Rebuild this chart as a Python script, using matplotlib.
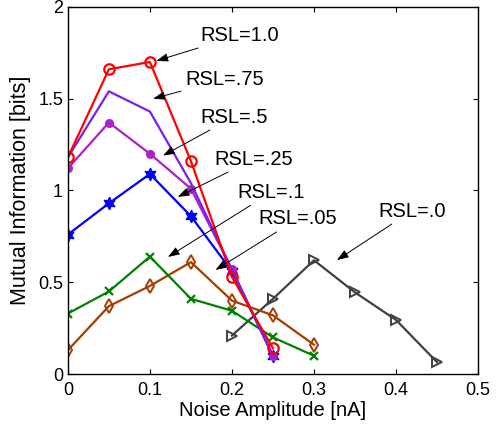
import matplotlib
matplotlib.use('Agg')
import matplotlib.pyplot as plt

plt.rcParams['font.family'] = ['Liberation Sans', 'DejaVu Sans']

# noise amplitude [nA]
noise_a = [0, 0.05, 0.1, 0.15, 0.2, 0.25]
noise_b = [0, 0.05, 0.1, 0.15, 0.2, 0.25, 0.3]
noise_c = [0.2, 0.25, 0.3, 0.35, 0.4, 0.45]

# mutual information [bits]
rsl_100 = [1.18, 1.66, 1.70, 1.16, 0.53, 0.14]
rsl_075 = [1.18, 1.54, 1.43, 1.04, 0.57, 0.10]
rsl_050 = [1.12, 1.37, 1.20, 1.01, 0.57, 0.10]
rsl_025 = [0.76, 0.93, 1.09, 0.86, 0.56, 0.10]
rsl_010 = [0.33, 0.45, 0.64, 0.41, 0.345, 0.20, 0.10]
rsl_005 = [0.13, 0.37, 0.48, 0.61, 0.40, 0.32, 0.16]
rsl_000 = [0.21, 0.41, 0.62, 0.445, 0.295, 0.065]

labels = ['RSL=1.0', 'RSL=.75', 'RSL=.5', 'RSL=.25', 'RSL=.1', 'RSL=.05', 'RSL=.0']
arrow_tips = [(0.108, 1.706), (0.104, 1.50), (0.116, 1.19), (0.134, 0.965),
              (0.122, 0.638), (0.180, 0.567), (0.328, 0.621)]
text_pos = [(0.161, 1.845), (0.143, 1.605), (0.161, 1.40), (0.179, 1.17),
            (0.207, 0.99), (0.232, 0.845), (0.378, 0.888)]

fig = plt.figure(figsize = (4.99, 4.30), dpi = 100)
ax = fig.add_axes([0.136, 0.130, 0.822, 0.854])

lw = 1.6
ax.plot(noise_c, rsl_000, color = '#404040', lw = lw, marker = '>', ms = 7,
        mfc = 'none', mew = 1.4)
ax.plot(noise_b, rsl_005, color = '#a83c00', lw = lw, marker = 'd', ms = 7,
        mfc = 'none', mew = 1.4)
ax.plot(noise_b, rsl_010, color = '#008000', lw = lw, marker = 'x', ms = 6,
        mew = 1.6)
ax.plot(noise_a, rsl_025, color = '#0000ff', lw = lw, marker = (6, 1, 0), ms = 9)
ax.plot(noise_a, rsl_050, color = '#b020c8', lw = lw, marker = 'o', ms = 5.5)
ax.plot(noise_a, rsl_075, color = '#7a1ff0', lw = lw)
ax.plot(noise_a, rsl_100, color = '#ff0000', lw = lw, marker = 'o', ms = 7.5,
        mfc = 'none', mew = 1.6)

for label, tip, pos in zip(labels, arrow_tips, text_pos):
    ax.annotate(label, xy = tip, xytext = pos, fontsize = 14.5,
                ha = 'left', va = 'center',
                arrowprops = dict(arrowstyle = '-|>,head_length=0.5,head_width=0.18',
                                  color = 'k', lw = 0.7,
                                  mutation_scale = 14, shrinkA = 1, shrinkB = 0))

ax.set_xlim(0, 0.5)
ax.set_ylim(0, 2)
ax.set_xticks([0, 0.1, 0.2, 0.3, 0.4, 0.5])
ax.set_xticklabels(['0', '0.1', '0.2', '0.3', '0.4', '0.5'])
ax.set_yticks([0, 0.5, 1, 1.5, 2])
ax.set_yticklabels(['0', '0.5', '1', '1.5', '2'])
ax.tick_params(direction = 'in', top = True, right = True, labelsize = 13,
               length = 3.6, width = 0.8)
ax.tick_params(axis = 'x', pad = 6)
ax.tick_params(axis = 'y', pad = 3.5)
for spine in ax.spines.values():
    spine.set_linewidth(1.0)
ax.set_xlabel('Noise Amplitude [nA]', fontsize = 14.5, labelpad = 1)
ax.set_ylabel('Mutual Information [bits]', fontsize = 15.5, labelpad = 5)

fig.savefig('out.png', dpi = 100)
